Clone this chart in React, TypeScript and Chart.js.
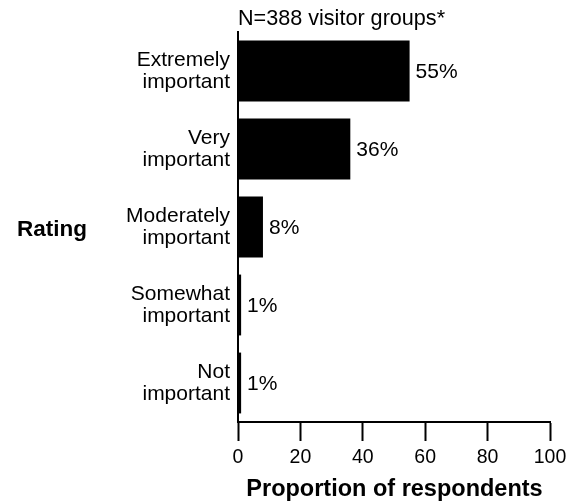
import React, { useEffect, useRef } from "react";
import { Chart, registerables } from "chart.js";

Chart.register(...registerables);

const categories: string[][] = [
  ["Extremely", "important"],
  ["Very", "important"],
  ["Moderately", "important"],
  ["Somewhat", "important"],
  ["Not", "important"],
];
const values: number[] = [55, 36, 8, 1, 1];
const xMin = 0;
const xMax = 100;
const xStep = 20;
const titleText = "N=388 visitor groups*";
const xTitle = "Proportion of respondents";
const yTitle = "Rating";

const FONT = "'Liberation Sans', Arial, Helvetica, sans-serif";

const textPlugin = {
  id: "textPlugin",
  afterDatasetsDraw(chart: any) {
    const ctx = chart.ctx;
    const meta = chart.getDatasetMeta(0);
    ctx.save();
    ctx.fillStyle = "#000";
    ctx.font = `21px ${FONT}`;
    ctx.textAlign = "left";
    ctx.textBaseline = "middle";
    meta.data.forEach((bar: any, i: number) => {
      ctx.fillText(`${values[i]}%`, bar.x + 6, bar.y + 1);
    });
    ctx.restore();
  },
  afterDraw(chart: any) {
    const ctx = chart.ctx;
    const area = chart.chartArea;
    ctx.save();
    ctx.fillStyle = "#000";
    ctx.font = `21.6px ${FONT}`;
    ctx.textAlign = "left";
    ctx.textBaseline = "alphabetic";
    ctx.fillText(titleText, area.left, 25);
    ctx.font = `bold 22.5px ${FONT}`;
    ctx.textAlign = "center";
    ctx.fillText(yTitle, 52, 236);
    ctx.font = `bold 23.5px ${FONT}`;
    ctx.fillText(xTitle, (area.left + area.right) / 2 + 0.5, 496);
    ctx.restore();
  },
};

export default function App() {
  const ref = useRef<HTMLCanvasElement | null>(null);
  useEffect(() => {
    if (!ref.current) return;
    const chart = new Chart(ref.current, {
      type: "bar",
      data: {
        labels: categories,
        datasets: [
          {
            data: values,
            backgroundColor: "#000",
            borderWidth: 0,
            barPercentage: 0.78,
            categoryPercentage: 1,
          },
        ],
      },
      options: {
        indexAxis: "y",
        responsive: false,
        animation: false,
        events: [],
        layout: { padding: { top: 32, right: 27, left: 0, bottom: 0 } },
        plugins: {
          legend: { display: false },
          tooltip: { enabled: false },
          title: { display: false },
        },
        scales: {
          x: {
            min: xMin,
            max: xMax,
            ticks: {
              stepSize: xStep,
              color: "#000",
              font: { family: FONT, size: 19.5 },
              padding: 5,
              maxRotation: 0,
            },
            grid: {
              display: true,
              drawOnChartArea: false,
              drawTicks: true,
              tickLength: 19,
              tickWidth: 2,
              tickColor: "#000",
            },
            border: { display: true, color: "#000", width: 2 },
            afterFit: (s: any) => {
              s.height = 82;
            },
          },
          y: {
            grid: { display: false },
            border: { display: true, color: "#000", width: 2 },
            ticks: {
              color: "#000",
              font: { family: FONT, size: 21, lineHeight: 1.02 },
              padding: 0,
            },
            afterFit: (s: any) => {
              s.width = 238;
            },
          },
        },
      },
      plugins: [textPlugin],
    } as any);
    return () => chart.destroy();
  }, []);
  return (
    <div style={{ position: "fixed", left: 0, top: 0, width: 577, height: 504, background: "#fff" }}>
      <canvas ref={ref} width={577} height={504} style={{ display: "block" }} />
    </div>
  );
}
